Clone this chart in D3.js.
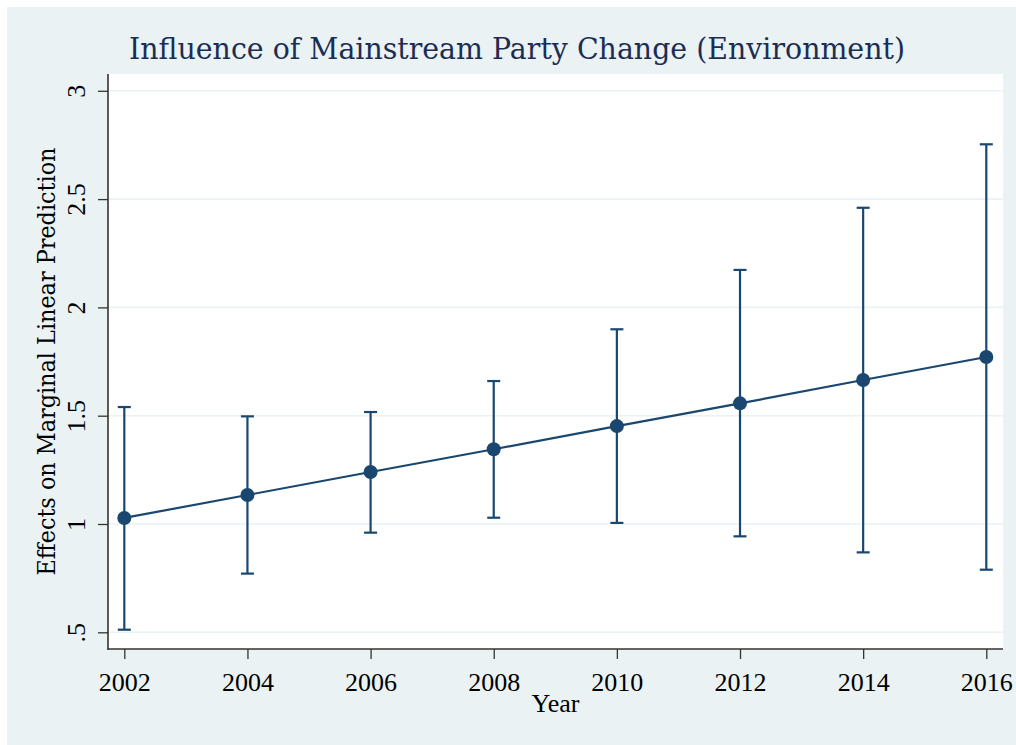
<!DOCTYPE html>
<html>
<head>
<meta charset="utf-8">
<script src="https://cdn.jsdelivr.net/npm/d3@7"></script>
<style>
  html, body { margin: 0; padding: 0; background: #ffffff; }
  svg { display: block; }
  text { font-family: "Liberation Serif", "DejaVu Serif", serif; }
  .wide { font-family: "DejaVu Serif", "Liberation Serif", serif; }
</style>
</head>
<body>
<script>
// Margins (point estimates with 95% confidence intervals) by year
const years    = [2002, 2004, 2006, 2008, 2010, 2012, 2014, 2016];
const estimate = [1.028, 1.134, 1.240, 1.345, 1.452, 1.557, 1.665, 1.771];
const lower    = [0.512, 0.771, 0.960, 1.029, 1.005, 0.943, 0.869, 0.789];
const upper    = [1.540, 1.497, 1.517, 1.660, 1.899, 2.173, 2.460, 2.753];
const yTicks   = [0.5, 1, 1.5, 2, 2.5, 3];
const yTickLabels = [".5", "1", "1.5", "2", "2.5", "3"];

const W = 1016, H = 745;
const plot = { left: 108, right: 1003, top: 74, bottom: 649 };
const navy = "#1a476f";

const svg = d3.select("body").append("svg")
  .attr("width", W).attr("height", H);

// graph region background
svg.append("rect").attr("x", 7).attr("y", 7)
  .attr("width", W - 7).attr("height", H - 7)
  .attr("fill", "#eaf2f3");

// plot region
svg.append("rect")
  .attr("x", plot.left).attr("y", plot.top)
  .attr("width", plot.right - plot.left).attr("height", plot.bottom - plot.top)
  .attr("fill", "#ffffff");

const x = d3.scaleLinear().domain([2002, 2016]).range([124.3, 986.3]);
const y = d3.scaleLinear().domain([0.5, 3]).range([632.3, 90.8]);

// horizontal grid
svg.append("g").selectAll("line").data(yTicks).join("line")
  .attr("x1", plot.left).attr("x2", plot.right)
  .attr("y1", d => y(d)).attr("y2", d => y(d))
  .attr("stroke", "#eaf2f3").attr("stroke-width", 1.6);

// y axis
const yAxis = svg.append("g")
  .attr("transform", `translate(${plot.left},0)`)
  .call(d3.axisLeft(y).tickValues(yTicks)
    .tickFormat((d, i) => yTickLabels[i]).tickSize(10).tickSizeOuter(0));
yAxis.select(".domain").remove();
yAxis.selectAll(".tick line").attr("stroke", "#333").attr("stroke-width", 1.3);
yAxis.selectAll(".tick text")
  .attr("x", null).attr("dy", null)
  .attr("transform", "translate(-23,0) rotate(-90)")
  .attr("text-anchor", "middle")
  .attr("font-size", 26).attr("fill", "#000");
svg.append("line")
  .attr("x1", plot.left).attr("x2", plot.left)
  .attr("y1", plot.top).attr("y2", plot.bottom + 0.7)
  .attr("stroke", "#333").attr("stroke-width", 1.6);

// x axis
const xAxis = svg.append("g")
  .attr("transform", `translate(0,${plot.bottom})`)
  .call(d3.axisBottom(x).tickValues(years).tickFormat(d3.format("d"))
    .tickSize(10).tickSizeOuter(0));
xAxis.select(".domain").remove();
xAxis.selectAll(".tick line").attr("stroke", "#333").attr("stroke-width", 1.3);
xAxis.selectAll(".tick text")
  .attr("y", 42).attr("dy", null)
  .attr("font-size", 26).attr("fill", "#000");
svg.append("line")
  .attr("x1", plot.left - 0.7).attr("x2", plot.right)
  .attr("y1", plot.bottom).attr("y2", plot.bottom)
  .attr("stroke", "#333").attr("stroke-width", 1.6);

// confidence intervals
const ci = svg.append("g").attr("stroke", navy).attr("stroke-width", 2.2).attr("fill", "none");
years.forEach((yr, i) => {
  const cx = x(yr);
  ci.append("line").attr("x1", cx).attr("x2", cx)
    .attr("y1", y(lower[i])).attr("y2", y(upper[i]));
  ci.append("line").attr("x1", cx - 6.5).attr("x2", cx + 6.5)
    .attr("y1", y(upper[i])).attr("y2", y(upper[i]));
  ci.append("line").attr("x1", cx - 6.5).attr("x2", cx + 6.5)
    .attr("y1", y(lower[i])).attr("y2", y(lower[i]));
});

// connecting line
const pts = years.map((yr, i) => [yr, estimate[i]]);
svg.append("path")
  .datum(pts)
  .attr("d", d3.line().x(d => x(d[0])).y(d => y(d[1])))
  .attr("fill", "none").attr("stroke", navy).attr("stroke-width", 2.2);

// point markers
svg.append("g").selectAll("circle").data(pts).join("circle")
  .attr("cx", d => x(d[0])).attr("cy", d => y(d[1]))
  .attr("r", 7).attr("fill", navy);

// titles
svg.append("text").attr("class", "wide")
  .attr("x", 517).attr("y", 58.5)
  .attr("text-anchor", "middle")
  .attr("font-size", 29).attr("fill", "#1c2d54")
  .attr("textLength", 776).attr("lengthAdjust", "spacingAndGlyphs")
  .text("Influence of Mainstream Party Change (Environment)");

svg.append("text")
  .attr("x", 555.5).attr("y", 712)
  .attr("text-anchor", "middle")
  .attr("font-size", 26).attr("fill", "#000")
  .text("Year");

svg.append("text").attr("class", "wide")
  .attr("transform", "translate(55,361.5) rotate(-90)")
  .attr("text-anchor", "middle")
  .attr("font-size", 24.5).attr("fill", "#000")
  .attr("textLength", 428).attr("lengthAdjust", "spacingAndGlyphs")
  .text("Effects on Marginal Linear Prediction");
</script>
</body>
</html>
